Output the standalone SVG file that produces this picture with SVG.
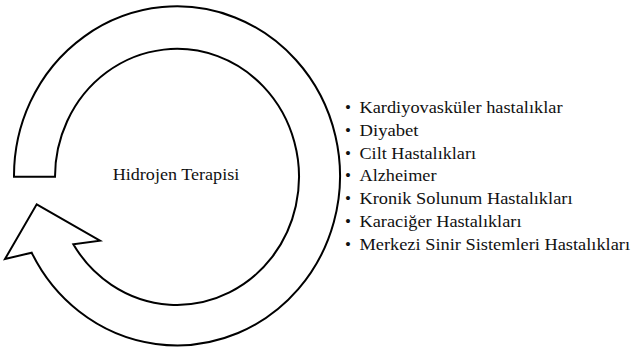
<svg xmlns="http://www.w3.org/2000/svg" width="633" height="354" viewBox="0 0 633 354">
<style>
.t{font-family:"Liberation Serif","Times New Roman",serif;font-size:17px;fill:#111}
.arrow{fill:#fff;stroke:#000;stroke-width:2;stroke-linejoin:miter}
</style>
<rect width="633" height="354" fill="#fff"/>
<g id="cycle-arrow">
<path class="arrow" d="M14,176.7 A163,169.5 0 1 1 31.7,252.7 L5,259 L36.7,204.3 L100,240.7 L73.3,244.3 A122,128 0 1 0 55,176.7 Z"/>
</g>
<g id="center-label">
<text class="t" x="112.7" y="180" textLength="126.6" lengthAdjust="spacingAndGlyphs">Hidrojen Terapisi</text>
</g>
<g id="list">
<text class="t" x="345" y="113">•</text>
<text class="t" x="359.5" y="113" textLength="203" lengthAdjust="spacingAndGlyphs">Kardiyovasküler hastalıklar</text>
<text class="t" x="345" y="135.8">•</text>
<text class="t" x="359.5" y="135.8" textLength="59" lengthAdjust="spacingAndGlyphs">Diyabet</text>
<text class="t" x="345" y="158.6">•</text>
<text class="t" x="359.5" y="158.6" textLength="116.5" lengthAdjust="spacingAndGlyphs">Cilt Hastalıkları</text>
<text class="t" x="345" y="181.4">•</text>
<text class="t" x="359.5" y="181.4" textLength="77" lengthAdjust="spacingAndGlyphs">Alzheimer</text>
<text class="t" x="345" y="204.2">•</text>
<text class="t" x="359.5" y="204.2" textLength="213" lengthAdjust="spacingAndGlyphs">Kronik Solunum Hastalıkları</text>
<text class="t" x="345" y="227">•</text>
<text class="t" x="359.5" y="227" textLength="162" lengthAdjust="spacingAndGlyphs">Karaciğer Hastalıkları</text>
<text class="t" x="345" y="249.8">•</text>
<text class="t" x="359.5" y="249.8" textLength="270.5" lengthAdjust="spacingAndGlyphs">Merkezi Sinir Sistemleri Hastalıkları</text>
</g>
</svg>
